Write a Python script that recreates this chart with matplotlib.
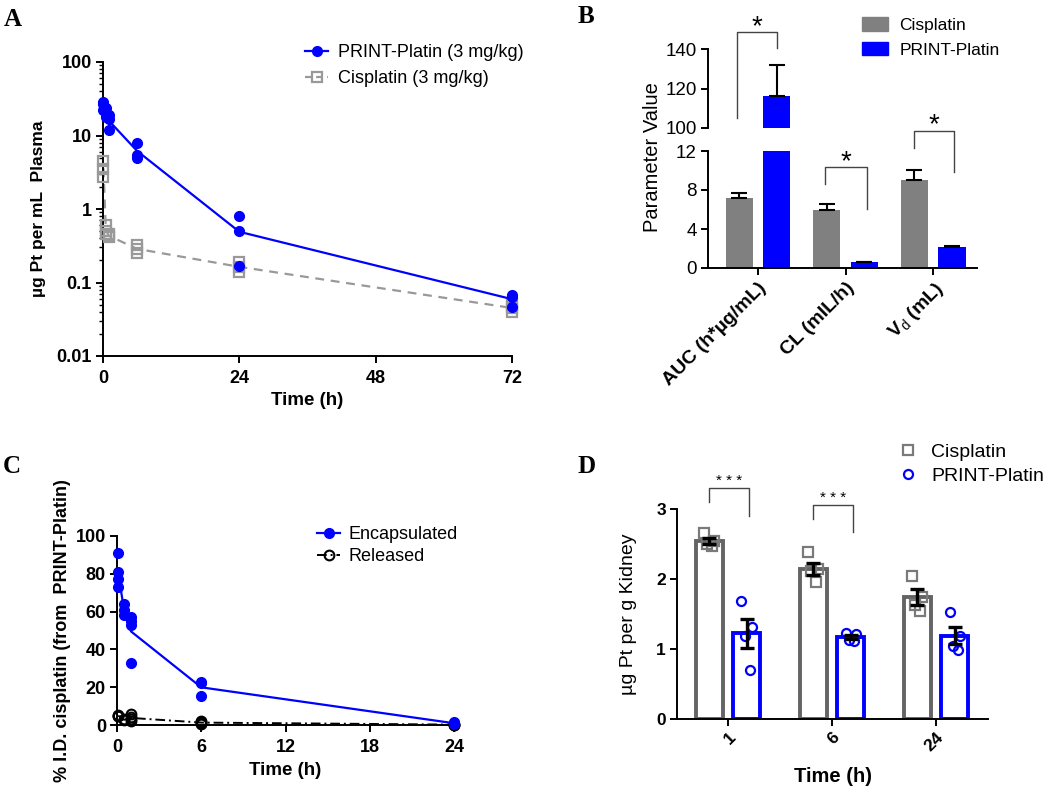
import numpy as np
import matplotlib
matplotlib.use('Agg')
import matplotlib.pyplot as plt
from matplotlib.lines import Line2D
from matplotlib.patches import Patch
from matplotlib.ticker import FixedLocator, LogLocator, NullFormatter, FixedFormatter

plt.rcParams['font.family'] = ['Liberation Sans', 'DejaVu Sans']
plt.rcParams['mathtext.fontset'] = 'custom'
plt.rcParams['mathtext.rm'] = 'Liberation Sans'
plt.rcParams['mathtext.bf'] = 'Liberation Sans:bold'

# ---------------- data ----------------
# Panel A: plasma Pt (log scale)
a_times = [0.083, 0.5, 1, 6, 24, 72]
a_print = [[29, 27, 22], [24, 20, 18], [19, 17, 12], [8.0, 5.5, 5.0],
           [0.80, 0.50, 0.17], [0.068, 0.063, 0.047]]
a_cis = [[4.5, 3.5, 2.7], [0.60, 0.50, 0.45], [0.45, 0.43, 0.42],
         [0.32, 0.29, 0.25], [0.19, 0.16, 0.14], [0.050, 0.045, 0.040]]
a_xticks = [0, 24, 48, 72]
a_yticks = [0.01, 0.1, 1, 10, 100]
a_ytlabels = ['0.01', '0.1', '1', '10', '100']

# Panel B: PK parameters
b_params = ['AUC (h*\u00b5g/mL)', 'CL (mlL/h)', 'V$_{\\rm d}$ (mL)']
b_cis = [7.2, 6.0, 9.0]
b_cis_err = [0.45, 0.55, 1.1]
b_print = [116, 0.6, 2.2]
b_print_err = [16, 0.05, 0.06]
b_low_ticks = [0, 4, 8, 12]
b_high_ticks = [100, 120, 140]

# Panel C: encapsulated vs released
c_times = [0.083, 0.5, 1, 6, 24]
c_enc = [[91, 81, 77, 73], [64, 61, 58], [57, 55, 53, 33], [22.6, 22.0, 15.2], [1.5, 0.8, 0.5]]
c_rel = [[5.5, 5.0, 4.5], [2.5, 3.0], [6.0, 4.0, 3.0, 2.0], [2.0, 1.5, 1.0, 0.6], [0.3, 0.2, 0.1]]
c_xticks = [0, 6, 12, 18, 24]
c_yticks = [0, 20, 40, 60, 80, 100]

# Panel D: kidney Pt
d_times = ['1', '6', '24']
d_cis_pts = [[2.66, 2.54, 2.50, 2.47], [2.38, 2.14, 2.11, 1.96], [2.05, 1.75, 1.63, 1.54]]
d_print_pts = [[1.69, 1.32, 1.19, 0.70], [1.23, 1.22, 1.13, 1.11], [1.53, 1.19, 1.04, 0.99]]
d_yticks = [0, 1, 2, 3]

# ---------------- style ----------------
BLUE = '#0000ff'
GRAY = '#808080'
DGRAY = '#646464'
W, H = 1050, 788
fig = plt.figure(figsize=(W / 100, H / 100), dpi=100)


def ax_px(x0, y0, x1, y1):
    return fig.add_axes([x0 / W, 1 - y1 / H, (x1 - x0) / W, (y1 - y0) / H])


def style_axes(ax, lw=1.4):
    for s in ['top', 'right']:
        ax.spines[s].set_visible(False)
    for s in ['left', 'bottom']:
        ax.spines[s].set_linewidth(lw)
    ax.tick_params(direction='out', length=5, width=lw, pad=3)


def means(groups):
    return [float(np.mean(g)) for g in groups]


def sems(groups):
    return [float(np.std(g, ddof=1) / np.sqrt(len(g))) for g in groups]


def panel_letter(x, y, s):
    fig.text(x / W, 1 - y / H, s, family='Liberation Serif', weight='bold',
             fontsize=18, va='top', ha='left')

# ================= Panel A =================
axA = ax_px(103, 62, 512, 356)
style_axes(axA)
axA.set_yscale('log')
axA.set_xlim(0, 72)
axA.set_ylim(0.01, 100)
for t, g in zip(a_times, a_cis):
    axA.plot([t] * len(g), g, ls='none', marker='s', ms=7, mfc='none',
             mec='#999999', mew=1.6, clip_on=False, zorder=3)
axA.plot(a_times, means(a_cis), ls=(0, (4, 3)), color='#999999', lw=1.6, zorder=2)
for t, g in zip(a_times, a_print):
    axA.plot([t] * len(g), g, ls='none', marker='o', ms=7, color=BLUE,
             clip_on=False, zorder=4)
axA.plot(a_times, means(a_print), '-', color=BLUE, lw=1.6, zorder=3)
axA.xaxis.set_major_locator(FixedLocator(a_xticks))
axA.yaxis.set_major_locator(FixedLocator(a_yticks))
axA.yaxis.set_major_formatter(FixedFormatter(a_ytlabels))
axA.yaxis.set_minor_locator(LogLocator(base=10, subs=np.arange(2, 10)))
axA.yaxis.set_minor_formatter(NullFormatter())
axA.tick_params(which='minor', length=3, width=1.0)
axA.tick_params(axis='x', pad=5)
for lab in axA.get_xticklabels() + axA.get_yticklabels():
    lab.set_fontweight('bold')
    lab.set_fontsize(13)
axA.set_xlabel('Time (h)', fontsize=13.5, fontweight='bold')
axA.xaxis.set_label_coords(0.5, -0.122)
axA.set_ylabel('\u00b5g Pt per mL  Plasma', fontsize=12.5, fontweight='bold')
axA.yaxis.set_label_coords(-0.14, 0.5)
hA = [Line2D([], [], color=BLUE, lw=1.6, marker='o', ms=7),
      Line2D([], [], color='#999999', lw=1.6, ls=(0, (3, 2)), marker='s', ms=7, mfc='none', mew=1.6)]
axA.legend(hA, ['PRINT-Platin (3 mg/kg)', 'Cisplatin (3 mg/kg)'], loc='upper left',
           bbox_to_anchor=(305 / W, 1 - 44 / H), bbox_transform=fig.transFigure,
           frameon=False, fontsize=13, handlelength=1.3, handletextpad=0.55,
           labelspacing=0.5, borderpad=0, borderaxespad=0)
panel_letter(4, 8, 'A')

# ================= Panel B =================
xB = np.arange(len(b_params))
offB, wB = 0.215, 0.31
axBl = ax_px(708, 151, 977, 268)
axBh = ax_px(708, 49, 977, 128)
for ax in (axBl, axBh):
    style_axes(ax)
    ax.set_xlim(-0.57, 2.5)
    ax.bar(xB - offB, b_cis, wB, color=GRAY, zorder=2)
    ax.bar(xB + offB, b_print, wB, color=BLUE, zorder=2)
    ax.errorbar(xB - offB, b_cis, yerr=[np.zeros(3), b_cis_err], fmt='none',
                ecolor='black', elinewidth=1.5, capsize=5.5, capthick=1.5, zorder=3)
    ax.errorbar(xB + offB, b_print, yerr=[np.zeros(3), b_print_err], fmt='none',
                ecolor='black', elinewidth=1.5, capsize=5.5, capthick=1.5, zorder=3)
    ax.tick_params(axis='y', labelsize=13.5)
axBl.set_ylim(0, 12)
axBh.set_ylim(100, 140)
axBl.yaxis.set_major_locator(FixedLocator(b_low_ticks))
axBh.yaxis.set_major_locator(FixedLocator(b_high_ticks))
axBh.spines['bottom'].set_visible(False)
axBh.set_xticks([])
axBh.patch.set_visible(False)
axBl.set_xticks(xB)
axBl.set_xticklabels(b_params, rotation=45, ha='right', va='top',
                     rotation_mode='anchor', fontsize=14, fontweight='bold')
fig.text(652 / W, 1 - 157 / H, 'Parameter Value', rotation=90, fontsize=14.5,
         ha='center', va='center')


def bracket(ax, x0, x1, y0, ytop, y1, star, ys, fs):
    ax.plot([x0, x0, x1, x1], [y0, ytop, ytop, y1], color='#444444', lw=1.0,
            clip_on=False, zorder=5)
    ax.text((x0 + x1) / 2, ys, star, ha='center', va='center', fontsize=fs,
            clip_on=False)

bracket(axBh, -0.24, 0.22, 105, 148.6, 140.5, '*', 151.0, 20)
bracket(axBl, 0.77, 1.24, 8.6, 10.4, 6.05, '*', 10.9, 20)
bracket(axBl, 1.78, 2.24, 12.3, 14.05, 9.85, '*', 14.6, 20)
hB = [Patch(color=GRAY), Patch(color=BLUE)]
axBl.legend(hB, ['Cisplatin', 'PRINT-Platin'], loc='upper left',
            bbox_to_anchor=(862 / W, 1 - 17 / H), bbox_transform=fig.transFigure,
            frameon=False, fontsize=12.5, handlelength=1.5, handleheight=0.85,
            handletextpad=0.65, labelspacing=0.5, borderpad=0, borderaxespad=0)
panel_letter(578, 5, 'B')

# ================= Panel C =================
axC = ax_px(117, 536, 454, 725)
style_axes(axC)
axC.set_xlim(0, 24)
axC.set_ylim(0, 100)
for t, g in zip(c_times, c_rel):
    axC.plot([t] * len(g), g, ls='none', marker='o', ms=7, mfc='none', mec='black',
             mew=1.5, clip_on=False, zorder=3)
axC.plot(c_times, means(c_rel), color='black', lw=1.4, ls=(0, (5, 2, 1, 2)), zorder=2)
for t, g in zip(c_times, c_enc):
    axC.plot([t] * len(g), g, ls='none', marker='o', ms=7, color=BLUE,
             clip_on=False, zorder=4)
axC.plot(c_times, means(c_enc), '-', color=BLUE, lw=1.6, zorder=3)
axC.xaxis.set_major_locator(FixedLocator(c_xticks))
axC.yaxis.set_major_locator(FixedLocator(c_yticks))
axC.tick_params(axis='x', pad=5)
for lab in axC.get_xticklabels() + axC.get_yticklabels():
    lab.set_fontweight('bold')
    lab.set_fontsize(13)
axC.set_xlabel('Time (h)', fontsize=13.5, fontweight='bold')
axC.xaxis.set_label_coords(0.5, -0.196)
axC.set_ylabel('% I.D. cisplatin (from  PRINT-Platin)', fontsize=13, fontweight='bold')
axC.yaxis.set_label_coords(-0.137, 0.5)
hC = [Line2D([], [], color=BLUE, lw=1.6, marker='o', ms=7),
      Line2D([], [], color='black', lw=1.4, ls=(0, (5, 2, 1, 2)), marker='o', ms=7,
             mfc='none', mew=1.5)]
axC.legend(hC, ['Encapsulated', 'Released'], loc='upper left',
           bbox_to_anchor=(317 / W, 1 - 526 / H), bbox_transform=fig.transFigure,
           frameon=False, fontsize=13, handlelength=1.3, handletextpad=0.45,
           labelspacing=0.3, borderpad=0, borderaxespad=0)
panel_letter(3, 455, 'C')

# ================= Panel D =================
axD = ax_px(677, 509, 988, 719)
style_axes(axD)
xD = np.arange(len(d_times))
offD, wD = 0.18, 0.255
axD.set_xlim(-0.49, 2.5)
axD.set_ylim(0, 3)
axD.bar(xD - offD, means(d_cis_pts), wD, facecolor='white', edgecolor=DGRAY, lw=2.8, zorder=2)
axD.bar(xD + offD, means(d_print_pts), wD, facecolor='white', edgecolor=BLUE, lw=2.8, zorder=2)
jit = [-0.05, 0.05, -0.02, 0.03]
for i in range(len(d_times)):
    axD.plot(xD[i] - offD + np.array(jit), d_cis_pts[i], ls='none', marker='s', ms=6.5,
             mfc='none', mec='#7a7a7a', mew=1.6, zorder=3)
    axD.plot(xD[i] + offD + np.array(jit), d_print_pts[i], ls='none', marker='o', ms=6.5,
             mfc='none', mec=BLUE, mew=1.6, zorder=3)
axD.errorbar(xD - offD, means(d_cis_pts), yerr=sems(d_cis_pts), fmt='none', ecolor='black',
             elinewidth=2.4, capsize=4.7, capthick=2.4, zorder=4)
axD.errorbar(xD + offD, means(d_print_pts), yerr=sems(d_print_pts), fmt='none', ecolor='black',
             elinewidth=2.4, capsize=4.7, capthick=2.4, zorder=4)
axD.yaxis.set_major_locator(FixedLocator(d_yticks))
axD.set_xticks(xD)
axD.set_xticklabels(d_times, rotation=45, ha='right', va='top', rotation_mode='anchor')
for lab in axD.get_xticklabels() + axD.get_yticklabels():
    lab.set_fontweight('bold')
    lab.set_fontsize(12.5)
axD.set_xlabel('Time (h)', fontsize=14.5, fontweight='bold')
axD.xaxis.set_label_coords(0.5, -0.229)
axD.set_ylabel('\u00b5g Pt per g Kidney', fontsize=14)
axD.yaxis.set_label_coords(-0.129, 0.5)
bracket(axD, -0.18, 0.2, 3.1, 3.3, 2.9, '* * *', 3.4, 11)
bracket(axD, 0.82, 1.2, 2.86, 3.06, 2.67, '* * *', 3.16, 11)
hD = [Line2D([], [], ls='none', marker='s', ms=6.5, mfc='none', mec='#7a7a7a', mew=1.6),
      Line2D([], [], ls='none', marker='o', ms=6.5, mfc='none', mec=BLUE, mew=1.6)]
axD.legend(hD, ['Cisplatin', 'PRINT-Platin'], loc='upper left',
           bbox_to_anchor=(900 / W, 1 - 443 / H), bbox_transform=fig.transFigure,
           frameon=False, fontsize=14, handlelength=0.8, handletextpad=0.8,
           labelspacing=0.35, borderpad=0, borderaxespad=0)
panel_letter(577, 455, 'D')

fig.savefig('out.png', dpi=100)
